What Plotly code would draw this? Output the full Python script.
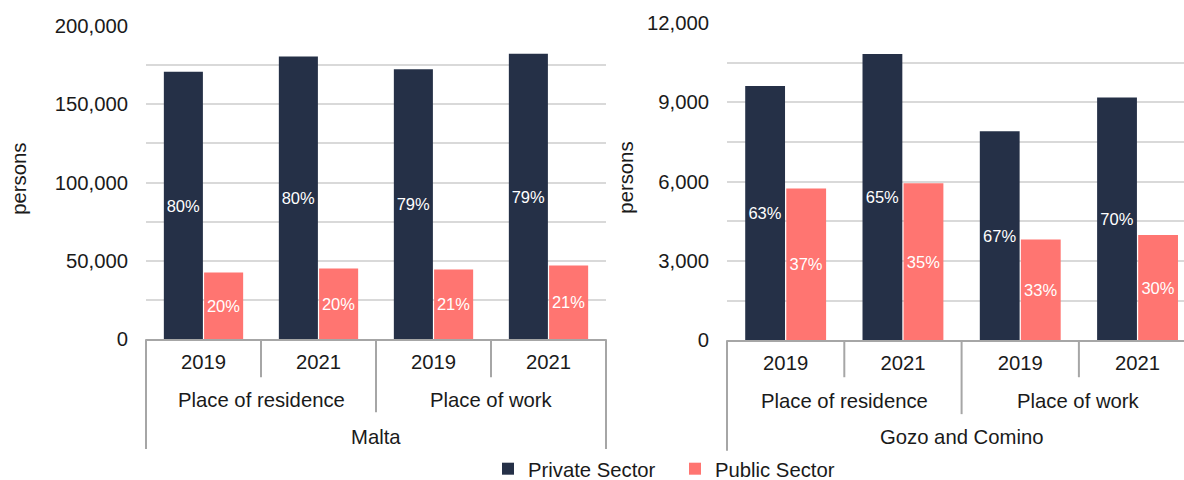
import plotly.graph_objects as go
from plotly.subplots import make_subplots

# data
years = ["2019", "2021", "2019", "2021"]
places = ["Place of residence", "Place of residence", "Place of work", "Place of work"]
regions = ["Malta", "Gozo and Comino"]

malta_private = [170700, 180500, 172400, 182200]
malta_public = [42700, 45200, 44600, 47100]
malta_private_pct = ["80%", "80%", "79%", "79%"]
malta_public_pct = ["20%", "20%", "21%", "21%"]

gozo_private = [9620, 10830, 7900, 9180]
gozo_public = [5740, 5940, 3810, 3980]
gozo_private_pct = ["63%", "65%", "67%", "70%"]
gozo_public_pct = ["37%", "35%", "33%", "30%"]

PRIVATE = "#253047"
PUBLIC = "#FF7571"
GRID = "#D9D9D9"
AXIS = "#A6A6A6"
FONT = "Liberation Sans, Arial, sans-serif"
TXT = "#1a1a1a"
FS = 20.3

cats = [f"{p} {y}" for p, y in zip(places, years)]

# positions below are measured in 1184x480 picture pixels; the capture squeezes
# the page a little vertically, so the figure itself is made slightly taller
W, H = 1184, 489
PW, PH = 1184, 480


def px(x):
    return x / PW


def py(y):
    return 1 - y / PH


fig = make_subplots(rows=1, cols=2)

panels = [
    (malta_private, malta_public, malta_private_pct, malta_public_pct),
    (gozo_private, gozo_public, gozo_private_pct, gozo_public_pct),
]
for i, (priv, pub, priv_pct, pub_pct) in enumerate(panels):
    for name, vals, pct, color in [
        ("Private Sector", priv, priv_pct, PRIVATE),
        ("Public Sector", pub, pub_pct, PUBLIC),
    ]:
        fig.add_trace(
            go.Bar(
                x=cats, y=vals, name=name, text=pct,
                textposition="inside", insidetextanchor="middle",
                textangle=0, constraintext="none",
                textfont=dict(color="white", size=16.5, family=FONT),
                marker=dict(color=color, line=dict(width=0)),
                showlegend=(i == 0), legendgroup=name,
            ),
            row=1, col=i + 1,
        )

xr = [[-0.5, 3.5], [-0.5, 3.396]]
xdom = [[px(146), px(606)], [px(727), 1.0]]
ydom = [[py(340), py(26)], [py(341), py(23)]]
yrange = [[0, 200000], [0, 12000]]
ydt = [50000, 3000]

for i in range(2):
    fig.update_xaxes(
        domain=xdom[i], range=xr[i], tickvals=cats, ticktext=years,
        showline=True, linecolor=AXIS, linewidth=2, ticks="",
        showgrid=False, zeroline=False, automargin=False,
        tickfont=dict(size=FS, color=TXT, family=FONT),
        ticklabelstandoff=3,
        row=1, col=i + 1,
    )
    fig.update_yaxes(
        domain=ydom[i], range=yrange[i], dtick=ydt[i], tickformat=",",
        showgrid=True, gridcolor=GRID, gridwidth=1.5,
        minor=dict(dtick=ydt[i] / 2, showgrid=True, gridcolor=GRID, gridwidth=1.5),
        zeroline=False, showline=False, ticks="", automargin=False,
        tickfont=dict(size=FS, color=TXT, family=FONT),
        ticklabelstandoff=17,
        row=1, col=i + 1,
    )

# category hierarchy: dividers and group labels (depths in y-domain units)
depths = [
    {"year": -0.121, "place": -0.2325, "outer": -0.350, "place_lbl": -0.194, "region_lbl": -0.3105},
    {"year": -0.1164, "place": -0.2327, "outer": -0.348, "place_lbl": -0.191, "region_lbl": -0.305},
]
for i in range(2):
    xa = "x" if i == 0 else "x2"
    ya = "y" if i == 0 else "y2"
    r0, r1 = xr[i]
    d = depths[i]
    n = len(cats)
    for b in range(n + 1):
        pos = b - 0.5
        if pos > r1:
            continue
        if b == 0 or b == n:
            depth = d["outer"]
        elif places[b - 1] != places[b]:
            depth = d["place"]
        else:
            depth = d["year"]
        fx = (pos - r0) / (r1 - r0)
        fig.add_shape(
            type="line", xref=f"{xa} domain", yref=f"{ya} domain",
            x0=fx, x1=fx, y0=0, y1=depth,
            line=dict(color=AXIS, width=2),
        )
    seen = []
    for p in places:
        if p not in seen:
            seen.append(p)
    for p in seen:
        idx = [k for k, q in enumerate(places) if q == p]
        fig.add_annotation(
            x=sum(idx) / len(idx), y=d["place_lbl"], xref=xa, yref=f"{ya} domain",
            text=p, showarrow=False, yanchor="middle",
            font=dict(size=FS, color=TXT, family=FONT),
        )
    fig.add_annotation(
        x=(n - 1) / 2, y=d["region_lbl"], xref=xa, yref=f"{ya} domain",
        text=regions[i], showarrow=False, yanchor="middle",
        font=dict(size=FS, color=TXT, family=FONT),
    )

# y-axis titles
for xp, yp in [(18.7, 179.5), (626, 178)]:
    fig.add_annotation(
        x=px(xp), y=py(yp), xref="paper", yref="paper",
        xanchor="center", yanchor="middle",
        text="persons", textangle=-90, showarrow=False,
        font=dict(size=FS, color=TXT, family=FONT),
    )

fig.update_layout(
    width=W, height=H,
    margin=dict(l=0, r=0, t=0, b=0),
    paper_bgcolor="white", plot_bgcolor="white",
    barmode="group", bargap=0.3, bargroupgap=0.03,
    font=dict(family=FONT, color=TXT),
    legend=dict(
        orientation="h", x=px(488), xanchor="left", y=py(470), yanchor="middle",
        entrywidth=142, entrywidthmode="pixels",
        font=dict(size=FS, color=TXT, family=FONT),
        itemclick=False, bgcolor="rgba(0,0,0,0)",
    ),
)

# pin the figure to the window origin
pin = (
    "var g=document.getElementById('{plot_id}');"
    "g.style.position='fixed';g.style.top='0';g.style.left='0';"
    "document.body.style.margin='0';document.body.style.overflow='hidden';"
)
fig.write_html("out.html", config={"displayModeBar": False}, post_script=pin)
